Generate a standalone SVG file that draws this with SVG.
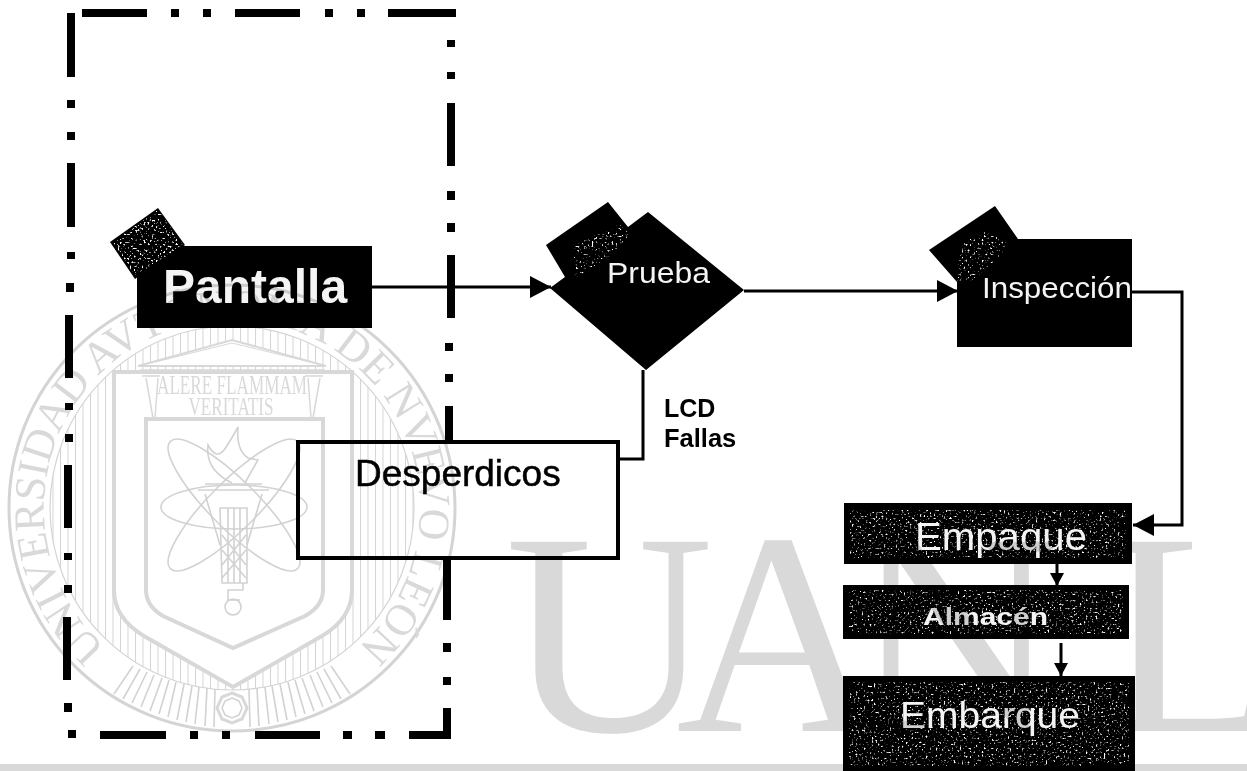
<svg xmlns="http://www.w3.org/2000/svg" width="1247" height="771" viewBox="0 0 1247 771">
<defs>
<path id="arcT" d="M106.2 647.7A188 188 0 1 1 357.8 647.7"/>
<marker id="ah" markerUnits="userSpaceOnUse" markerWidth="22" markerHeight="24" refX="21" refY="11" orient="auto"><path d="M0 0L21 11L0 22Z" fill="#000"/></marker>
<marker id="as" markerUnits="userSpaceOnUse" markerWidth="14" markerHeight="14" refX="13" refY="7" orient="auto"><path d="M0 0L13 7L0 14Z" fill="#000"/></marker>
<pattern id="hatch" width="7.5" height="8" patternUnits="userSpaceOnUse"><rect x="0" width="1" height="8" fill="#d4d4d4"/></pattern>
<filter id="speck" x="0" y="0" width="1" height="1" color-interpolation-filters="sRGB"><feTurbulence type="fractalNoise" baseFrequency=".5" numOctaves="2" seed="4"/><feColorMatrix values="0 0 0 0 1 0 0 0 0 1 0 0 0 0 1 4 4 0 0 -4.5"/><feComposite in2="SourceAlpha" operator="in"/></filter>
</defs>
<style>
.wm{fill:none;stroke:#d2d2d2;stroke-width:1.6}
.wms{fill:#fff;stroke:#d8d8d8;stroke-width:4}
.wmt{fill:#d9d9d9;font-family:"Liberation Serif",serif}
.frame{fill:none;stroke:#000;stroke-width:8}
.conn{fill:none;stroke:#000;stroke-width:3}
.sans{font-family:"Liberation Sans",Arial,sans-serif}
.lite{fill:#f4f4f4}
.spk{fill:#000;filter:url(#speck)}
</style>
<rect width="1247" height="771" fill="#fff"/>
<g id="boundary">
<path class="frame" d="M82 13H147M171 13H179M203 13H211M235 13H300M325 13H333M357 13H365M388 13H456
M71 13V77M71 100V108M71 132V140M71 163V227M71 252V259M70 283V292M69 315V378M69 403V410M69 434V442M68 465V528M68 553V560M68 585V593M67 617V680M68 703V712M72 730V738
M100 735H166M190 735H198M222 735H230M255 735H320M343 735H352M375 735H385M409 735H451
M451 40V47M451 72V79M451 103V166M451 191V200M451 223V232M451 255V318M449 343V351M449 374V382M449 406V470M447 560V620M447 643V652M447 677V685M447 708V738"/>
</g>
<g id="connectors">
<path class="conn" d="M372 287H551" marker-end="url(#ah)"/>
<path class="conn" d="M744 291H958" marker-end="url(#ah)"/>
<path class="conn" d="M1132 292H1182V525H1133" marker-end="url(#ah)"/>
<path class="conn" d="M618 459H643V370"/>
</g>
<g id="pantalla">
<rect x="137" y="246" width="235" height="82" fill="#000"/>
<path d="M158 208L110 242L135 279L185 245Z" fill="#000"/>
<path class="spk" d="M158 210L113 242L135 276L183 245Z"/>
<path class="spk" d="M158 210L113 242L135 276L183 245Z"/>
<text class="sans lite" x="163" y="303" font-size="48" font-weight="700">Pantalla</text>
</g>
<g id="prueba">
<path d="M608 202L546 245L565 277L550 288L646 370L744 290L648 212L628 227Z" fill="#000"/>
<path class="spk" d="M620 224L630 235L612 255L575 278L573 245Z"/>
<text class="sans lite" x="607" y="283" font-size="30" textLength="103" lengthAdjust="spacingAndGlyphs">Prueba</text>
</g>
<g id="inspeccion">
<path d="M995 206L929 250L957 282V347H1132V239H1018Z" fill="#000"/>
<path class="spk" d="M985 230L1010 245L975 280L957 282L960 245Z"/>
<text class="sans lite" x="982" y="298" font-size="30" textLength="150" lengthAdjust="spacingAndGlyphs">Inspección</text>
</g>
<g id="desperdicos">
<rect x="298" y="442" width="320" height="116" fill="#fff" stroke="#000" stroke-width="4"/>
<text class="sans" x="355" y="486" font-size="37" fill="#000" stroke="#000" stroke-width=".5">Desperdicos</text>
</g>
<g id="fallas-label">
<text class="sans" x="664" y="417" font-size="25" font-weight="700">LCD</text>
<text class="sans" x="664" y="447" font-size="25.5" font-weight="700">Fallas</text>
</g>
<g id="empaque">
<rect x="844" y="503" width="288" height="61" fill="#000"/>
<rect class="spk" x="850" y="510" width="276" height="48"/>
<text class="sans lite" x="915" y="550" font-size="39" textLength="172" lengthAdjust="spacingAndGlyphs">Empaque</text>
</g>
<g id="almacen">
<rect x="843" y="585" width="286" height="54" fill="#000"/>
<rect class="spk" x="849" y="590" width="274" height="44"/>
<text class="sans lite" x="923" y="625" font-size="24" font-weight="700" textLength="125" lengthAdjust="spacingAndGlyphs">Almacén</text>
</g>
<g id="embarque">
<rect x="843" y="676" width="292" height="95" fill="#000"/>
<rect class="spk" x="849" y="682" width="280" height="84"/>
<text class="sans lite" x="900" y="728" font-size="37" textLength="180" lengthAdjust="spacingAndGlyphs">Embarque</text>
</g>
<g id="connectors-short">
<path class="conn" d="M1057 564V586" marker-end="url(#as)"/>
<path class="conn" d="M1061 643V676" marker-end="url(#as)" stroke-width="2"/>
</g>
<g id="watermark" style="mix-blend-mode:multiply">
<text class="wmt" font-size="289" x="505 676 851 1103" y="731">UANL</text>
<rect x="0" y="764" width="1247" height="7" fill="#d9d9d9"/>
<circle cx="232" cy="508" r="223" fill="none" stroke="#d4d4d4" stroke-width="3"/>
<circle cx="232" cy="508" r="182" fill="url(#hatch)" stroke="#d4d4d4" stroke-width="1.2"/>
<path class="wm" d="M114 694L133 666M123 699L140 669M132 703L147 672M141 707L154 675M150 711L162 678M159 714L169 680M168 717L176 682M177 720L184 684M186 722L192 686M195 724L199 687M205 726L207 688M214 727L215 689M250 727L249 689M259 726L257 688M269 724L265 687M278 722L272 686M287 720L280 684M296 717L288 682M305 714L295 680M314 711L302 678M323 707L310 675M332 703L317 672M341 699L324 669M350 694L331 666"/>
<path class="wms" d="M114 372H352V590Q352 618 322 636L233 687L144 636Q114 618 114 590Z"/>
<path class="wms" d="M146 419H323V590Q323 606 305 616L233 648L163 616Q146 606 146 590Z"/>
<path d="M138 366L232 340L326 366Z" fill="#fff" stroke="#d8d8d8" stroke-width="2"/>
<path d="M155 362L232 343L310 362" fill="none" stroke="#d8d8d8" stroke-width="1"/>
<path d="M140 370H325M142 376H160M305 376H323M146 378L153 418M158 378L155 418M320 378L313 418M308 378L311 418" fill="none" stroke="#d8d8d8" stroke-width="1.5"/>
<text class="wmt" x="232" y="394" font-size="27" text-anchor="middle" textLength="150" lengthAdjust="spacingAndGlyphs">ALERE FLAMMAM</text>
<text class="wmt" x="231" y="415" font-size="25" text-anchor="middle" textLength="85" lengthAdjust="spacingAndGlyphs">VERITATIS</text>
<ellipse class="wm" cx="234" cy="507" rx="73" ry="22"/>
<ellipse class="wm" cx="234" cy="505" rx="90" ry="24" transform="rotate(-45 234 505)"/>
<ellipse class="wm" cx="234" cy="505" rx="90" ry="24" transform="rotate(45 234 505)"/>
<path class="wm" d="M198 490H269M205 484H262M205 494L220 545M262 494L247 545"/>
<path class="wm" d="M220 508H247V583H222ZM228 508V583M234 508V583M240 508V583M222 535L246 565M246 535L222 565M222 550L246 578M246 550L222 578M224 583H243V590H228V600H240"/>
<circle class="wm" cx="233" cy="607" r="8"/>
<path class="wm" d="M232 483Q205 470 208 445Q216 460 224 450Q228 445 238 427Q236 450 248 458L258 460Q252 470 245 483"/>
<path d="M232 693l10 4l5 11l-5 11l-10 4l-10-4l-5-11l5-11Z" fill="#fff" stroke="#d8d8d8" stroke-width="3"/>
<path class="wm" d="M232 698l7 3l3 7l-3 7l-7 3l-7-3l-3-7l3-7Z"/>
<text class="wmt" font-size="44"><textPath href="#arcT" textLength="905" lengthAdjust="spacing">UNIVERSIDAD AVTÓNOMA DE NVEVO LEÓN</textPath></text>
</g>
</svg>
